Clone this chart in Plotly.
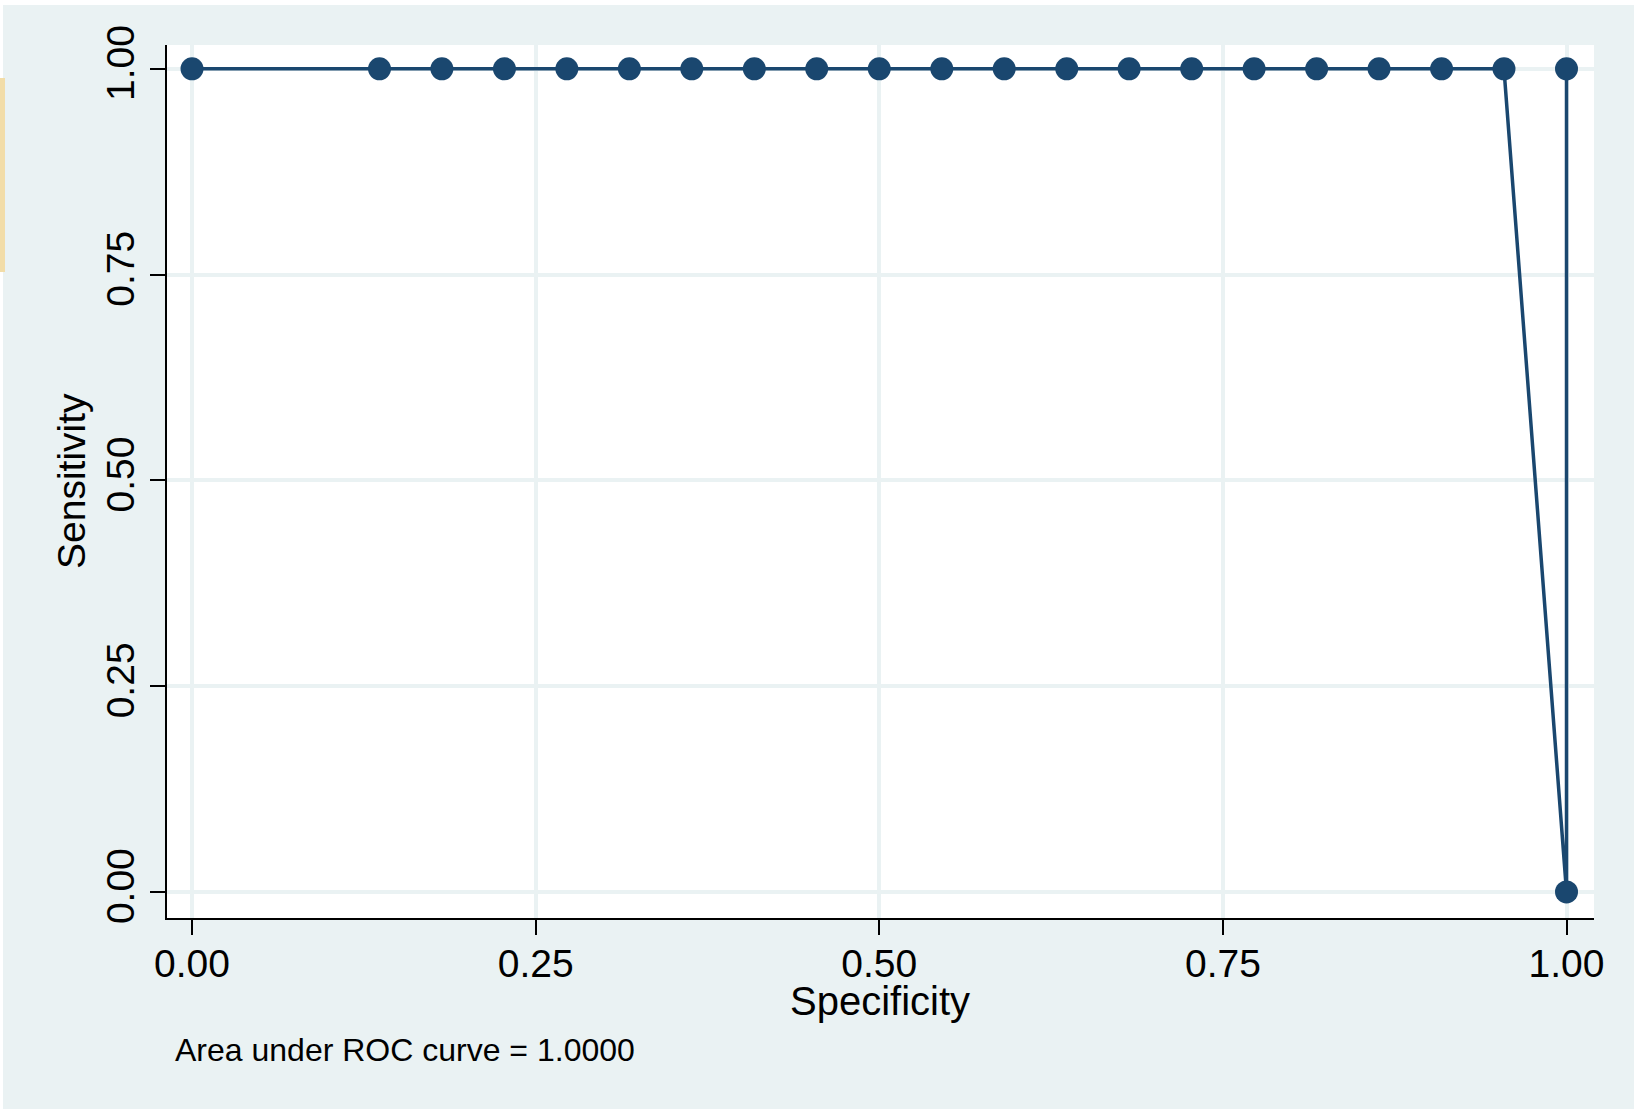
import plotly.graph_objects as go

# ROC curve data (specificity on x, sensitivity on y)
specificity = [0.0, 0.1364, 0.1818, 0.2273, 0.2727, 0.3182, 0.3636, 0.4091,
               0.4545, 0.5000, 0.5455, 0.5909, 0.6364, 0.6818, 0.7273, 0.7727,
               0.8182, 0.8636, 0.9091, 0.9545, 1.0, 1.0]
sensitivity = [1.0, 1.0, 1.0, 1.0, 1.0, 1.0, 1.0, 1.0, 1.0, 1.0, 1.0, 1.0,
               1.0, 1.0, 1.0, 1.0, 1.0, 1.0, 1.0, 1.0, 0.0, 1.0]
tick_vals = [0.0, 0.25, 0.5, 0.75, 1.0]
tick_text = ["0.00", "0.25", "0.50", "0.75", "1.00"]
auc_note = "Area under ROC curve = 1.0000"

NAVY = "#1A476F"
BG = "#EAF2F3"
FONT = "Arial, Liberation Sans, sans-serif"

W, H = 1634, 1109
L, R, T, B = 167, 40, 45, 191
PW, PH = W - L - R, H - T - B


def px_x(p):
    return (p - L) / PW


def px_y(p):
    return (H - B - p) / PH


fig = go.Figure()
fig.add_trace(go.Scatter(
    x=specificity, y=sensitivity, mode="lines+markers",
    line=dict(color=NAVY, width=3.5),
    marker=dict(color=NAVY, size=23, line=dict(width=0)),
    showlegend=False, hoverinfo="x+y",
))

axis_common = dict(
    tickvals=tick_vals, ticktext=tick_text,
    showgrid=True, gridcolor=BG, gridwidth=3.5,
    zeroline=False, showline=True, linecolor="black", linewidth=2,
    ticks="outside", ticklen=15, tickwidth=2, tickcolor="black",
    tickfont=dict(family=FONT, size=39, color="black"),
    mirror=False,
)

fig.update_xaxes(range=[-0.0182, 1.020], ticklabelstandoff=-5, **axis_common)
fig.update_yaxes(range=[-0.0316, 1.029], tickangle=-90, **axis_common)

annotations = [
    dict(text="Specificity", xref="paper", yref="paper",
         x=px_x(880), y=px_y(1001), xanchor="center", yanchor="middle",
         showarrow=False, font=dict(family=FONT, size=40, color="black")),
    dict(text="Sensitivity", xref="paper", yref="paper",
         x=px_x(71), y=px_y(481), xanchor="center", yanchor="middle",
         textangle=-90, showarrow=False,
         font=dict(family=FONT, size=39, color="black")),
    dict(text=auc_note, xref="paper", yref="paper",
         x=px_x(173), y=px_y(1050), xanchor="left", yanchor="middle",
         showarrow=False, font=dict(family=FONT, size=32, color="black")),
]

shapes = [
    # thin white strip at the top and left edge of the image
    dict(type="rect", xref="paper", yref="paper", layer="above",
         x0=px_x(-10), x1=px_x(W + 10), y0=px_y(5), y1=px_y(-10),
         fillcolor="white", line=dict(width=0)),
    dict(type="rect", xref="paper", yref="paper", layer="above",
         x0=px_x(-10), x1=px_x(3), y0=px_y(H + 10), y1=px_y(-10),
         fillcolor="white", line=dict(width=0)),
    # yellowish tab on the left edge
    dict(type="rect", xref="paper", yref="paper", layer="above",
         x0=px_x(-10), x1=px_x(5), y0=px_y(272), y1=px_y(78),
         fillcolor="#F2DDA8", line=dict(width=0)),
]

fig.update_layout(
    width=W, height=H,
    margin=dict(l=L, r=R, t=T, b=B, pad=0),
    paper_bgcolor=BG, plot_bgcolor="white",
    font=dict(family=FONT, color="black"),
    annotations=annotations, shapes=shapes,
    showlegend=False,
)

fig.write_html("out.html",
               config={"displayModeBar": False},
               post_script="document.body.style.margin='0';"
                           "document.body.style.overflow='hidden';")
